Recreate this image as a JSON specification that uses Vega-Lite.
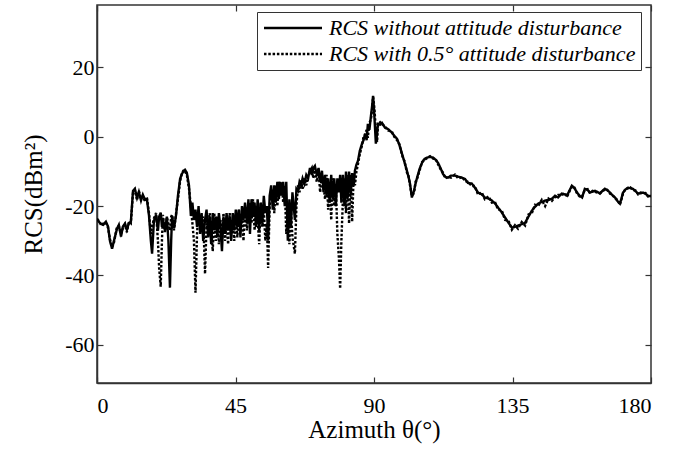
{
"$schema": "https://vega.github.io/schema/vega-lite/v6.json",
"autosize": "none",
"width": 554,
"height": 378,
"padding": {"left": 97, "top": 5, "right": 35, "bottom": 74},
"background": "white",
"config": {
  "view": {"stroke": "#333", "strokeWidth": 1.5},
  "style": {"guide-label": {"font": "Liberation Serif", "fontSize": 22, "fill": "black"}, "guide-title": {"font": "Liberation Serif", "fontSize": 25, "fontWeight": "normal", "fill": "black"}},
  "axis": {"labelFont": "Liberation Serif", "labelFontSize": 22, "labelColor": "black", "titleFont": "Liberation Serif", "titleFontSize": 25, "titleFontWeight": "normal", "titleColor": "black", "grid": false, "domainColor": "#333", "domainWidth": 1.5, "tickColor": "#333", "tickSize": -6, "tickWidth": 1.2},
  "legend": {"labelFont": "Liberation Serif", "labelFontSize": 22, "labelFontStyle": "italic", "labelColor": "black"}
},
"data": {"values": [
{"a":0,"s":-23.6,"d":-23.8},{"a":0.7,"s":-24.6,"d":-24.3},{"a":1.4,"s":-25.2,"d":-25.6},{"a":2.0,"s":-25.4,"d":-25.0},{"a":2.9,"s":-24.5,"d":-24.8},{"a":3.6,"s":-25.9,"d":-26.3},{"a":4.2,"s":-30,"d":-29.5},{"a":4.9,"s":-32.3,"d":-31.8},{"a":5.5,"s":-30,"d":-30.5},{"a":6.5,"s":-26.5,"d":-26.0},{"a":7.1,"s":-25.4,"d":-25.8},{"a":7.8,"s":-28.8,"d":-28.0},{"a":8.4,"s":-25.9,"d":-26.4},{"a":9.1,"s":-25,"d":-25.3},{"a":9.7,"s":-26.8,"d":-27.5},{"a":10.4,"s":-24.8,"d":-24.4},{"a":11.0,"s":-24.5,"d":-24.9},{"a":11.7,"s":-15.6,"d":-16.2},{"a":12.3,"s":-15,"d":-15.3},{"a":13.0,"s":-17.6,"d":-18.3},{"a":13.6,"s":-15.9,"d":-15.6},{"a":14.3,"s":-18.4,"d":-17.8},{"a":14.9,"s":-16.7,"d":-17.2},{"a":15.6,"s":-18.2,"d":-18.6},{"a":16.2,"s":-17.9,"d":-17.4},{"a":16.9,"s":-22.8,"d":-22.0},{"a":17.5,"s":-30,"d":-28},{"a":17.9,"s":-33.7,"d":-26},{"a":18.5,"s":-24.2,"d":-23.5},{"a":19.2,"s":-22.5,"d":-22},{"a":19.8,"s":-27.1,"d":-30},{"a":20.2,"s":-23,"d":-38},{"a":20.7,"s":-21.9,"d":-43.2},{"a":21.1,"s":-26,"d":-30},{"a":21.4,"s":-23.6,"d":-22.5},{"a":22.1,"s":-27.1,"d":-27.5},{"a":22.7,"s":-23,"d":-23.2},{"a":23.2,"s":-30,"d":-25},{"a":23.7,"s":-43.5,"d":-27},{"a":24.1,"s":-30,"d":-23},{"a":24.4,"s":-22.8,"d":-22.5},{"a":25.0,"s":-26.5,"d":-27},{"a":25.7,"s":-22.5,"d":-22},{"a":26.3,"s":-17,"d":-18},{"a":27.0,"s":-12.1,"d":-12.8},{"a":27.6,"s":-10.7,"d":-10.5},{"a":28.2,"s":-9.8,"d":-9.6},{"a":28.6,"s":-9.5,"d":-10},{"a":29.2,"s":-10.4,"d":-11},{"a":29.9,"s":-14.1,"d":-15},{"a":30.5,"s":-22.8,"d":-20},{"a":31.0,"s":-19,"d":-25},{"a":31.5,"s":-24,"d":-30},{"a":32.0,"s":-21,"d":-45},{"a":32.5,"s":-26,"d":-28},{"a":33.0,"s":-20,"d":-21},{"a":33.5,"s":-28,"d":-24},{"a":34.0,"s":-22,"d":-26},{"a":34.5,"s":-30,"d":-23},{"a":35.1,"s":-24,"d":-39.5},{"a":35.6,"s":-21,"d":-25},{"a":36.1,"s":-29,"d":-27},{"a":36.6,"s":-23,"d":-22},{"a":37.1,"s":-31,"d":-26},{"a":37.6,"s":-22,"d":-33},{"a":38.1,"s":-27,"d":-22},{"a":38.6,"s":-23,"d":-30},{"a":39.1,"s":-29,"d":-23},{"a":39.6,"s":-22,"d":-31},{"a":40.1,"s":-26,"d":-24},{"a":40.6,"s":-33,"d":-29},{"a":41.1,"s":-23,"d":-22},{"a":41.6,"s":-28,"d":-30},{"a":42.1,"s":-22,"d":-24},{"a":42.6,"s":-27,"d":-31},{"a":43.1,"s":-23,"d":-22},{"a":43.6,"s":-30,"d":-28},{"a":44.1,"s":-22,"d":-25},{"a":44.6,"s":-27,"d":-30},{"a":45.1,"s":-21,"d":-22},{"a":45.6,"s":-26,"d":-29},{"a":46.1,"s":-21,"d":-21},{"a":46.6,"s":-29,"d":-27},{"a":47.1,"s":-20,"d":-23},{"a":47.6,"s":-24,"d":-30},{"a":48.1,"s":-19,"d":-20},{"a":48.7,"s":-25,"d":-27},{"a":49.2,"s":-18,"d":-22},{"a":49.7,"s":-28,"d":-19},{"a":50.2,"s":-18,"d":-25},{"a":50.7,"s":-23,"d":-18},{"a":51.2,"s":-19,"d":-27},{"a":51.7,"s":-26,"d":-20},{"a":52.2,"s":-18,"d":-24},{"a":52.7,"s":-27,"d":-31},{"a":53.2,"s":-19,"d":-19},{"a":53.7,"s":-25,"d":-26},{"a":54.2,"s":-17,"d":-21},{"a":54.7,"s":-22,"d":-30},{"a":55.2,"s":-20,"d":-25},{"a":55.6,"s":-30,"d":-37.8},{"a":56.1,"s":-17,"d":-20},{"a":56.6,"s":-14,"d":-16},{"a":57.1,"s":-21,"d":-15},{"a":57.6,"s":-14,"d":-22},{"a":58.1,"s":-19,"d":-14},{"a":58.6,"s":-13,"d":-20},{"a":59.1,"s":-18,"d":-13},{"a":59.5,"s":-13,"d":-17},{"a":60.0,"s":-17,"d":-13},{"a":60.5,"s":-13,"d":-19},{"a":61.0,"s":-20,"d":-14},{"a":61.5,"s":-13,"d":-28},{"a":62.0,"s":-30,"d":-22},{"a":62.5,"s":-18,"d":-31},{"a":63.0,"s":-26,"d":-21},{"a":63.5,"s":-16,"d":-29},{"a":64.3,"s":-24,"d":-33.7},{"a":64.8,"s":-15,"d":-20},{"a":65.3,"s":-15.6,"d":-14},{"a":65.8,"s":-13,"d":-16},{"a":66.3,"s":-14,"d":-12.5},{"a":66.8,"s":-12,"d":-15},{"a":67.4,"s":-13.5,"d":-12},{"a":68.0,"s":-11,"d":-14},{"a":68.6,"s":-12,"d":-11},{"a":69.2,"s":-9,"d":-10},{"a":69.8,"s":-11,"d":-9},{"a":70.3,"s":-9,"d":-12},{"a":70.8,"s":-8.4,"d":-9},{"a":71.4,"s":-11,"d":-13},{"a":72.0,"s":-9,"d":-10},{"a":72.5,"s":-13,"d":-16},{"a":73.1,"s":-9.8,"d":-11},{"a":73.6,"s":-16,"d":-14},{"a":74.1,"s":-11,"d":-18},{"a":74.6,"s":-17,"d":-11},{"a":75.1,"s":-12,"d":-21},{"a":75.6,"s":-19,"d":-13},{"a":76.1,"s":-11,"d":-24},{"a":76.6,"s":-18,"d":-12},{"a":77.1,"s":-12,"d":-20},{"a":77.6,"s":-20,"d":-14},{"a":78.1,"s":-12,"d":-28},{"a":78.6,"s":-16,"d":-35},{"a":79.0,"s":-11,"d":-43.8},{"a":79.4,"s":-19,"d":-30},{"a":79.9,"s":-11,"d":-18},{"a":80.4,"s":-20,"d":-12},{"a":80.9,"s":-10,"d":-22},{"a":81.4,"s":-18,"d":-11},{"a":81.9,"s":-10,"d":-25},{"a":82.4,"s":-17,"d":-11},{"a":82.9,"s":-10.5,"d":-24.5},{"a":83.4,"s":-14,"d":-11},{"a":83.8,"s":-9.8,"d":-14},{"a":84.3,"s":-8,"d":-10},{"a":84.8,"s":-6.9,"d":-7.8},{"a":85.4,"s":-4,"d":-5},{"a":86.1,"s":-2,"d":-2.5},{"a":86.6,"s":-1,"d":0},{"a":87.1,"s":0.9,"d":0.5},{"a":87.6,"s":-1,"d":2},{"a":88.0,"s":3.7,"d":-0.3},{"a":88.5,"s":2,"d":4},{"a":89.0,"s":6,"d":5},{"a":89.4,"s":9,"d":8},{"a":89.7,"s":11.8,"d":11.5},{"a":90.0,"s":8,"d":9.5},{"a":90.3,"s":3,"d":6},{"a":90.6,"s":-2,"d":2},{"a":91.0,"s":1,"d":-1.5},{"a":91.3,"s":3.7,"d":3.5},{"a":92.0,"s":3.5,"d":4.2},{"a":92.6,"s":4,"d":3.6},{"a":93.6,"s":2.6,"d":3},{"a":94.6,"s":2.2,"d":1.8},{"a":95.8,"s":1.2,"d":1.5},{"a":96.6,"s":0.3,"d":0},{"a":97.5,"s":-0.6,"d":-1},{"a":98.3,"s":-2.5,"d":-2.2},{"a":99.1,"s":-4.9,"d":-5.3},{"a":99.9,"s":-7.3,"d":-7},{"a":100.7,"s":-9.8,"d":-10.3},{"a":101.2,"s":-11.5,"d":-11.2},{"a":101.7,"s":-13.5,"d":-14},{"a":102.3,"s":-17.5,"d":-17},{"a":103.0,"s":-15.6,"d":-16.2},{"a":103.5,"s":-13.5,"d":-13},{"a":104.0,"s":-11.8,"d":-12.1},{"a":104.8,"s":-9.3,"d":-9.8},{"a":105.6,"s":-7.5,"d":-7.3},{"a":106.4,"s":-6.4,"d":-6.6},{"a":107.2,"s":-6,"d":-6.2},{"a":108.2,"s":-5.8,"d":-5.6},{"a":109.2,"s":-6,"d":-6.3},{"a":110.0,"s":-6.6,"d":-6.4},{"a":110.8,"s":-7.5,"d":-7.9},{"a":111.6,"s":-9,"d":-9.3},{"a":112.4,"s":-10.7,"d":-10.3},{"a":113.2,"s":-11.6,"d":-12},{"a":114.0,"s":-11.8,"d":-11.5},{"a":115.0,"s":-11.2,"d":-11.8},{"a":116.3,"s":-11.2,"d":-10.9},{"a":117.4,"s":-11.5,"d":-12},{"a":118.6,"s":-11.8,"d":-11.6},{"a":119.6,"s":-12.2,"d":-12.8},{"a":120.5,"s":-13.3,"d":-13},{"a":121.8,"s":-13.5,"d":-14.2},{"a":122.8,"s":-14.7,"d":-14.2},{"a":123.8,"s":-16.1,"d":-16.7},{"a":125.0,"s":-16.6,"d":-16},{"a":126.0,"s":-17.5,"d":-18},{"a":127.2,"s":-17.8,"d":-17.2},{"a":128.3,"s":-18.4,"d":-19},{"a":129.3,"s":-19.2,"d":-18.8},{"a":130.3,"s":-20.4,"d":-21},{"a":131.5,"s":-21.8,"d":-21.2},{"a":132.6,"s":-23.3,"d":-24},{"a":133.7,"s":-24.8,"d":-24.2},{"a":134.8,"s":-26.2,"d":-26.8},{"a":135.8,"s":-26,"d":-25.5},{"a":136.8,"s":-25.6,"d":-26.5},{"a":138.0,"s":-25.2,"d":-24.6},{"a":139.1,"s":-24.8,"d":-25.6},{"a":140.2,"s":-23,"d":-22.4},{"a":141.3,"s":-21.3,"d":-22},{"a":142.3,"s":-20.2,"d":-19.6},{"a":143.3,"s":-19.3,"d":-20},{"a":144.5,"s":-18.8,"d":-18.2},{"a":145.6,"s":-18.4,"d":-20},{"a":146.7,"s":-18.2,"d":-17.8},{"a":147.8,"s":-17.9,"d":-18.5},{"a":148.8,"s":-17,"d":-17.4},{"a":149.8,"s":-17.5,"d":-16.8},{"a":151.0,"s":-16.4,"d":-16.8},{"a":152.0,"s":-16.6,"d":-16.2},{"a":152.7,"s":-17,"d":-17.3},{"a":153.5,"s":-15.5,"d":-15.8},{"a":154.3,"s":-14.1,"d":-14.4},{"a":155.1,"s":-14.8,"d":-14.6},{"a":156.0,"s":-16.1,"d":-16.4},{"a":156.8,"s":-17,"d":-17.2},{"a":157.6,"s":-17.5,"d":-17.3},{"a":158.5,"s":-15,"d":-15.3},{"a":159.4,"s":-15.3,"d":-15.1},{"a":160.2,"s":-16.1,"d":-16.3},{"a":161.0,"s":-15.8,"d":-15.6},{"a":161.8,"s":-15.6,"d":-15.9},{"a":162.6,"s":-15.9,"d":-16.1},{"a":163.4,"s":-16.4,"d":-16.2},{"a":164.2,"s":-15.6,"d":-15.8},{"a":165.0,"s":-15,"d":-15.2},{"a":165.8,"s":-15.4,"d":-15.3},{"a":166.7,"s":-16.1,"d":-16.4},{"a":167.5,"s":-16.9,"d":-16.7},{"a":168.3,"s":-17.5,"d":-17.8},{"a":169.1,"s":-18.5,"d":-18.2},{"a":169.9,"s":-19.3,"d":-19.6},{"a":170.4,"s":-17.8,"d":-18.1},{"a":170.9,"s":-16.1,"d":-16.4},{"a":171.7,"s":-15.2,"d":-15},{"a":172.5,"s":-14.7,"d":-14.9},{"a":173.3,"s":-14.8,"d":-14.6},{"a":174.1,"s":-15,"d":-15.3},{"a":175.0,"s":-15.7,"d":-15.5},{"a":175.8,"s":-16.4,"d":-16.6},{"a":176.6,"s":-16.3,"d":-16.1},{"a":177.4,"s":-16.1,"d":-16.3},{"a":178.2,"s":-16.4,"d":-16.2},{"a":179.0,"s":-17,"d":-17.2},{"a":180.0,"s":-17.2,"d":-17}
]},
"transform": [{"fold": ["s", "d"], "as": ["series", "rcs"]}],
"layer": [
  {
    "mark": {"type": "line", "color": "black", "strokeWidth": 2.4, "clip": true},
    "encoding": {
      "x": {"field": "a", "type": "quantitative", "scale": {"domain": [0, 180], "nice": false, "zero": false}, "axis": {"values": [0, 45, 90, 135, 180], "title": "Azimuth θ(°)", "labelFont": "Liberation Serif", "labelFontSize": 22, "labelPadding": 18, "titlePadding": 1, "labelExpr": "'' + datum.value"}},
      "y": {"field": "rcs", "type": "quantitative", "scale": {"domain": [-71, 38], "nice": false, "zero": false}, "axis": {"values": [-60, -40, -20, 0, 20], "title": "RCS(dBm²)", "labelFont": "Liberation Serif", "labelFontSize": 22, "labelPadding": 9, "titlePadding": 18, "labelExpr": "'' + datum.value"}},
      "strokeDash": {"field": "series", "type": "nominal", "scale": {"domain": ["s", "d"], "range": [[1, 0], [2.5, 1.8]]},
        "legend": {"title": null, "orient": "none", "legendX": 160, "legendY": 7, "labelExpr": "datum.label == 's' ? 'RCS without attitude disturbance' : 'RCS with 0.5° attitude disturbance'", "labelFont": "Liberation Serif", "labelFontSize": 22, "labelFontStyle": "italic", "labelColor": "black", "labelLimit": 500, "symbolType": "M-3,0H3", "symbolSize": 374, "symbolStrokeWidth": 2.5, "symbolStrokeColor": "black", "symbolFillColor": "transparent", "fillColor": "white", "strokeColor": "#333", "padding": 5, "rowPadding": 4, "symbolOffset": 20, "labelOffset": 25}}
    }
  },
  {
    "mark": {"type": "point", "opacity": 0},
    "encoding": {
      "x": {"field": "a", "type": "quantitative", "scale": {"domain": [0, 180], "nice": false, "zero": false}, "axis": {"orient": "top", "values": [0, 45, 90, 135, 180], "labels": false, "title": null, "domain": false}},
      "y": {"field": "rcs", "type": "quantitative", "scale": {"domain": [-71, 38], "nice": false, "zero": false}, "axis": {"orient": "right", "values": [-60, -40, -20, 0, 20], "labels": false, "title": null, "domain": false}}
    }
  }
],
"resolve": {"axis": {"x": "independent", "y": "independent"}}
}
